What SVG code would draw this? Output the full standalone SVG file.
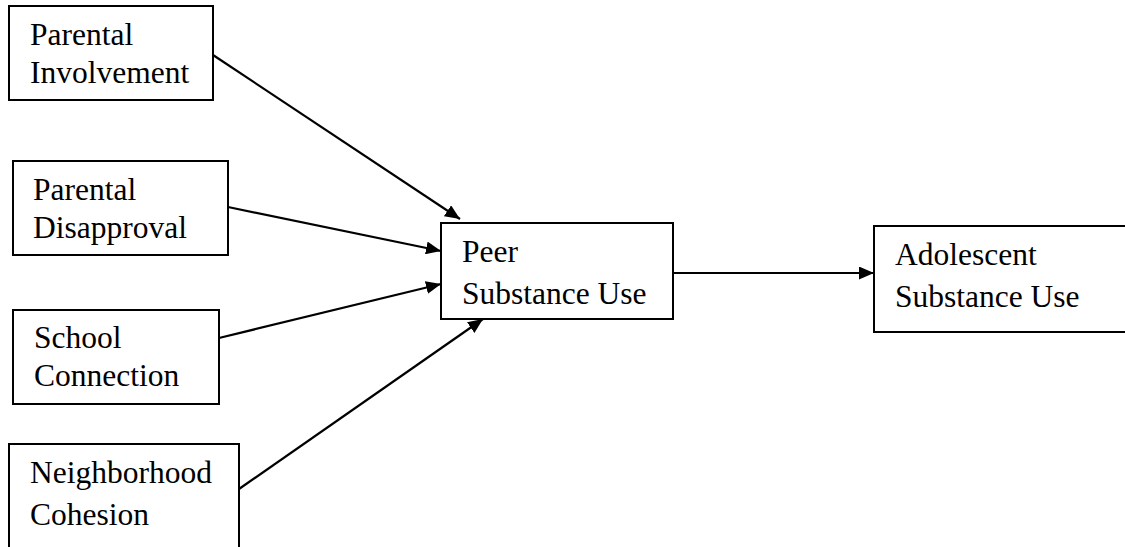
<svg xmlns="http://www.w3.org/2000/svg" width="1125" height="547" viewBox="0 0 1125 547">
<defs>
<style>
.box{fill:#fff;stroke:#000;stroke-width:2}
.t{font-family:"Liberation Serif","Times New Roman",serif;font-size:31.5px;fill:#000}
.c{stroke:#000;stroke-width:2.2;fill:none;marker-end:url(#ah)}
</style>
<marker id="ah" markerWidth="15" markerHeight="13" refX="15" refY="6.5" orient="auto" markerUnits="userSpaceOnUse" viewBox="0 0 15 13">
<path d="M0,0 L15,6.5 L0,13 Z" fill="#000"/>
</marker>
</defs>
<rect width="1125" height="547" fill="#fff"/>
<g id="connectors">
<line class="c" x1="213" y1="55" x2="460" y2="219"/>
<line class="c" x1="228" y1="207" x2="441" y2="251"/>
<line class="c" x1="219" y1="338" x2="441" y2="284"/>
<line class="c" x1="239" y1="489" x2="483" y2="319"/>
<line class="c" x1="673" y1="273" x2="874" y2="273"/>
</g>
<g id="parental-involvement">
<rect class="box" x="9" y="6" width="204" height="94"/>
<text class="t" x="30" y="45">Parental</text>
<text class="t" x="30" y="83">Involvement</text>
</g>
<g id="parental-disapproval">
<rect class="box" x="13" y="161" width="215" height="94"/>
<text class="t" x="33" y="200">Parental</text>
<text class="t" x="33" y="238">Disapproval</text>
</g>
<g id="school-connection">
<rect class="box" x="13" y="310" width="206" height="94"/>
<text class="t" x="34" y="348">School</text>
<text class="t" x="34" y="386">Connection</text>
</g>
<g id="neighborhood-cohesion">
<rect class="box" x="9" y="444" width="230" height="110"/>
<text class="t" x="30" y="483">Neighborhood</text>
<text class="t" x="30" y="525">Cohesion</text>
</g>
<g id="peer-substance-use">
<rect class="box" x="441" y="223" width="232" height="96"/>
<text class="t" x="462" y="262">Peer</text>
<text class="t" x="462" y="304">Substance Use</text>
</g>
<g id="adolescent-substance-use">
<rect class="box" x="874" y="226" width="270" height="106"/>
<text class="t" x="895" y="265">Adolescent</text>
<text class="t" x="895" y="307">Substance Use</text>
</g>
</svg>
